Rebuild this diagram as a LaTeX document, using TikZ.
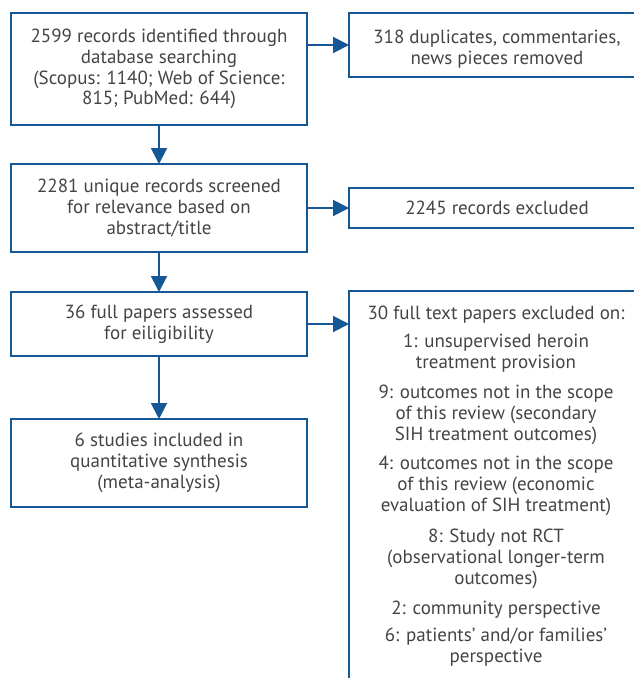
\documentclass[tikz,border=0pt]{standalone}
\usepackage{fontspec}
\setmainfont{PT Sans}
\usetikzlibrary{arrows.meta}
\definecolor{boxblue}{RGB}{22,88,150}
\definecolor{txtgray}{RGB}{68,68,68}
\begin{document}
\begin{tikzpicture}[x=1pt,y=-1pt,
  box/.style={draw=boxblue, line width=2pt, minimum width=296pt, inner sep=0pt, outer sep=0pt,
    text=txtgray, align=center, font=\fontsize{19}{20.8}\selectfont},
  lbl/.style={text=txtgray, align=center, inner sep=0pt, font=\fontsize{19}{20.8}\selectfont},
  arr/.style={draw=boxblue, line width=2pt, -{Triangle[length=16pt,width=16pt]}}]
\useasboundingbox (0,0) rectangle (634,678);
\clip (0,0) rectangle (634,678);
% left column
\node[box, minimum height=112pt] (b1) at (159,69) {2599 records identified through\\database searching\\(Scopus: 1140; Web of Science:\\815; PubMed: 644)};
\node[box, minimum height=88pt] (b2) at (159,208) {2281 unique records screened\\for relevance based on\\abstract/title};
\node[box, minimum height=64pt] (b3) at (159,324) {36 full papers assessed\\for eiligibility};
\node[box, minimum height=88pt] (b4) at (159,463) {6 studies included in\\quantitative synthesis\\(meta-analysis)};
% right column
\node[box, minimum height=64pt] (r1) at (497,45) {};
\node[lbl] (r1t) at (497,49.5) {318 duplicates, commentaries,\\news pieces removed};
\node[box, minimum height=40pt] (r2) at (497,208) {2245 records excluded};
\node[box, minimum height=409pt] (r3) at (497,495.5) {};
\node[lbl] (t0) at (496,315) {30 full text papers excluded on:};
\node[lbl] (t1) at (496,353) {1: unsupervised heroin\\treatment provision};
\node[lbl] (t2) at (496,415) {9: outcomes not in the scope\\of this review (secondary\\SIH treatment outcomes)};
\node[lbl] (t3) at (496,486) {4: outcomes not in the scope\\of this review (economic\\evaluation of SIH treatment)};
\node[lbl] (t4) at (496,559) {8: Study not RCT\\(observational longer-term\\outcomes)};
\node[lbl] (t5) at (496,610) {2: community perspective};
\node[lbl] (t6) at (496,647.5) {6: patients’ and/or families’\\perspective};
% connectors
\draw[arr] (b1) -- (b2);
\draw[arr] (b2) -- (b3);
\draw[arr] (b3) -- (b4);
\draw[arr] (b1.east |- r1.west) -- (r1.west);
\draw[arr] (b2.east |- r2.west) -- (r2.west);
\draw[arr] (b3.east) -- (b3.east -| r3.west);
\end{tikzpicture}
\end{document}
